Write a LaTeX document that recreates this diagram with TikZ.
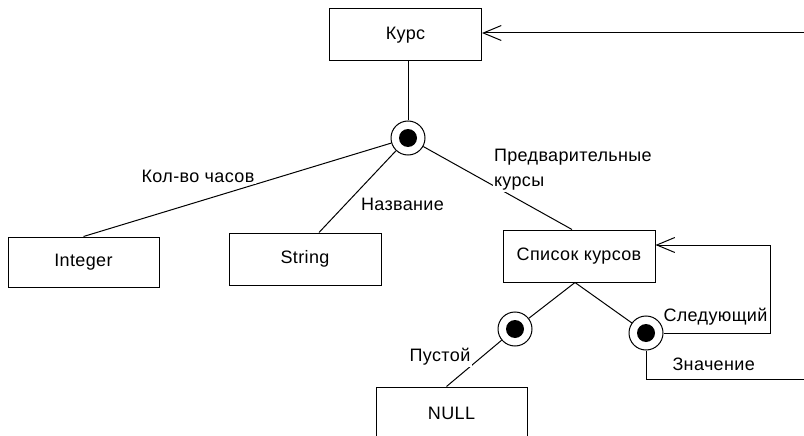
\documentclass[tikz,border=0pt]{standalone}
\usepackage{fontspec}
\setmainfont[LetterSpace=2]{Liberation Sans}
\usetikzlibrary{arrows.meta,calc}
\begin{document}
\begin{tikzpicture}[x=1pt,y=-1pt,
  line width=1pt,
  font=\fontsize{18}{25}\selectfont,
  box/.style={draw,rectangle,minimum width=152pt,minimum height=52pt,inner sep=0pt},
  knot/.style={draw,circle,minimum size=34pt,inner sep=0pt,
    path picture={\fill (path picture bounding box.center) circle (9pt);}},
  lbl/.style={fill=white,inner sep=1.5pt},
  arr/.style={-{Straight Barb[length=18pt,width=15pt,line width=1pt]}}
]
\clip (0,0) rectangle (804,436);
\useasboundingbox (0,0) rectangle (804,436);

\node[box] (kurs) at (405.5,35) {Курс};
\node[box,minimum width=151pt,minimum height=50pt] (integer) at (83.5,262) {Integer};
\node[box] (string) at (305,259) {String};
\node[box] (spisok) at (579,256) {Список курсов};
\node[box,minimum width=151pt] (null) at (451.5,413) {NULL};

\node[knot] (c1) at (408,138) {};
\node[knot] (c2) at (515,329) {};
\node[knot] (c3) at (646,333) {};

\coordinate (kursin) at (804,33);
\coordinate (loopx) at (770,0);
\coordinate (valend) at (804,379);

\draw (c1) -- (c1 |- kurs.south);
\draw (c1) -- (integer.north);
\draw (c1) -- ([xshift=14pt]string.north);
\draw (c1) -- ([xshift=-7pt]spisok.north);
\draw (c2) -- ([xshift=-4pt]spisok.south) -- (c3);
\draw (c2) -- ([xshift=-5pt]null.north);
\draw[arr] (kursin) -- (kursin -| kurs.east);
\draw[arr] (c3.east) -- (c3.east -| loopx) |- ([yshift=11pt]spisok.east);
\draw (c3.south) |- (valend);

\node[lbl] (lh) at (198,176) {Кол-во часов};
\node[lbl,anchor=west] (ln) at (359,204) {Название};
\node[lbl,anchor=west,align=left] (lp) at (492,170) {Предварительные\\курсы};
\node[anchor=west,inner sep=0pt] (ls) at (663,317) {Следующий};
\node[anchor=west,inner sep=0pt] (lz) at (672,364) {Значение};
\node[lbl] (le) at (440,357) {Пустой};
\end{tikzpicture}
\end{document}
